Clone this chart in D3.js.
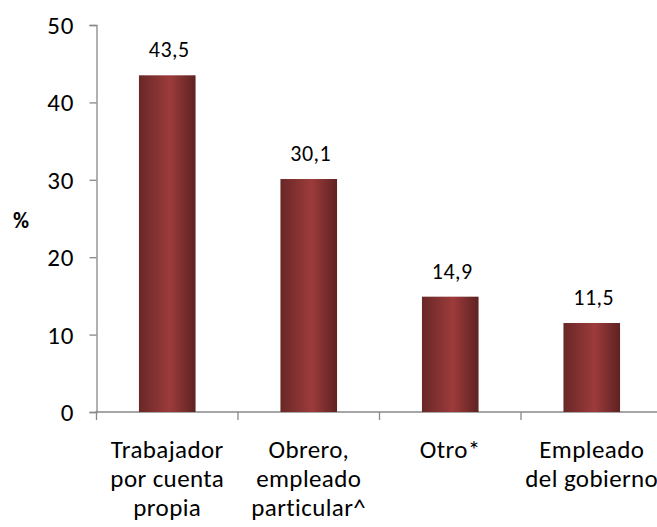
<!DOCTYPE html>
<html lang="es">
    <head>
        <meta charset="UTF-8" />
        <title>Posición en la ocupación</title>
        <script src="https://d3js.org/d3.v7.min.js"></script>
        <style>
            body {
                margin: 0;
                background: #fff;
            }
            text {
                font-family: Carlito, "Open Sans", sans-serif;
                fill: #000;
            }
            .axis path,
            .axis line {
                stroke: #888;
                stroke-width: 1.3px;
            }
        </style>
    </head>
    <body>
        <svg width="657" height="527"></svg>

        <script>
            const width = 657,
                height = 527;

            // datos
            const categories = [
                ["Trabajador", "por cuenta", "propia"],
                ["Obrero,", "empleado", "particular^"],
                ["Otro*"],
                ["Empleado", "del gobierno"],
            ];
            const values = [43.5, 30.1, 14.9, 11.5];
            const yTicks = [0, 10, 20, 30, 40, 50];

            // el eje X continúa un poco más allá del borde derecho
            const margin = { top: 25, right: -5.5, bottom: 115, left: 96.5 };

            const svg = d3.select("svg");

            // degradado de las barras
            const grad = svg
                .append("defs")
                .append("linearGradient")
                .attr("id", "barGrad")
                .attr("x1", "0%")
                .attr("x2", "100%");
            grad.append("stop").attr("offset", "0%").attr("stop-color", "#692727");
            grad.append("stop").attr("offset", "55%").attr("stop-color", "#9d3b3b");
            grad.append("stop").attr("offset", "100%").attr("stop-color", "#5e2222");

            const xBand = d3
                .scaleBand()
                .domain(d3.range(values.length))
                .range([margin.left, width - margin.right]);

            const x = xBand.copy().paddingInner(0.6).paddingOuter(0.3);

            const y = d3
                .scaleLinear()
                .domain([0, 50])
                .range([height - margin.bottom, margin.top]);

            // eje Y
            svg.append("g")
                .attr("class", "axis")
                .attr("transform", `translate(${margin.left},0)`)
                .call(d3.axisLeft(y).tickValues(yTicks).tickSize(7).tickPadding(15))
                .call((g) =>
                    g.selectAll("text")
                        .style("font-size", "25px")
                        .style("letter-spacing", "1px")
                        .attr("dy", "0.34em")
                );

            // eje X
            const xAxis = svg
                .append("g")
                .attr("class", "axis")
                .attr("transform", `translate(0,${height - margin.bottom})`);
            xAxis
                .append("line")
                .attr("x1", margin.left - 1)
                .attr("x2", width - margin.right)
                .attr("stroke", "#888")
                .attr("stroke-width", 1.3);
            xAxis
                .selectAll(".sep")
                .data(d3.range(values.length + 1))
                .enter()
                .append("line")
                .attr("x1", (i) => margin.left + i * xBand.step())
                .attr("x2", (i) => margin.left + i * xBand.step())
                .attr("y1", 0)
                .attr("y2", 8)
                .attr("stroke", "#888")
                .attr("stroke-width", 1.3);

            // barras
            svg.append("g")
                .selectAll("rect")
                .data(values)
                .enter()
                .append("rect")
                .attr("x", (d, i) => x(i))
                .attr("y", (d) => y(d))
                .attr("width", x.bandwidth())
                .attr("height", (d) => y(0) - y(d))
                .attr("fill", "url(#barGrad)");

            // etiquetas de valor
            svg.append("g")
                .selectAll("text")
                .data(values)
                .enter()
                .append("text")
                .attr("x", (d, i) => x(i) + x.bandwidth() / 2 + 2)
                .attr("y", (d) => y(d) - 18)
                .attr("text-anchor", "middle")
                .style("font-size", "22px")
                .style("letter-spacing", "0.5px")
                .text((d) => d.toFixed(1).replace(".", ","));

            // etiquetas de categoría
            const cat = svg
                .append("g")
                .selectAll("text")
                .data(categories)
                .enter()
                .append("text")
                .attr("text-anchor", "middle")
                .style("font-size", "25px")
                .style("letter-spacing", "0.4px")
                .attr("transform", (d, i) => `translate(${xBand(i) + xBand.bandwidth() / 2},${height - margin.bottom + 46})`);
            cat.selectAll("tspan")
                .data((d) => d)
                .enter()
                .append("tspan")
                .attr("x", 0)
                .attr("dy", (d, i) => (i === 0 ? 0 : 29))
                .text((d) => d);

            // título del eje
            svg.append("text")
                .attr("x", 21)
                .attr("y", 228)
                .attr("text-anchor", "middle")
                .style("font-size", "22px")
                .style("font-weight", "bold")
                .text("%");
        </script>
    </body>
</html>
